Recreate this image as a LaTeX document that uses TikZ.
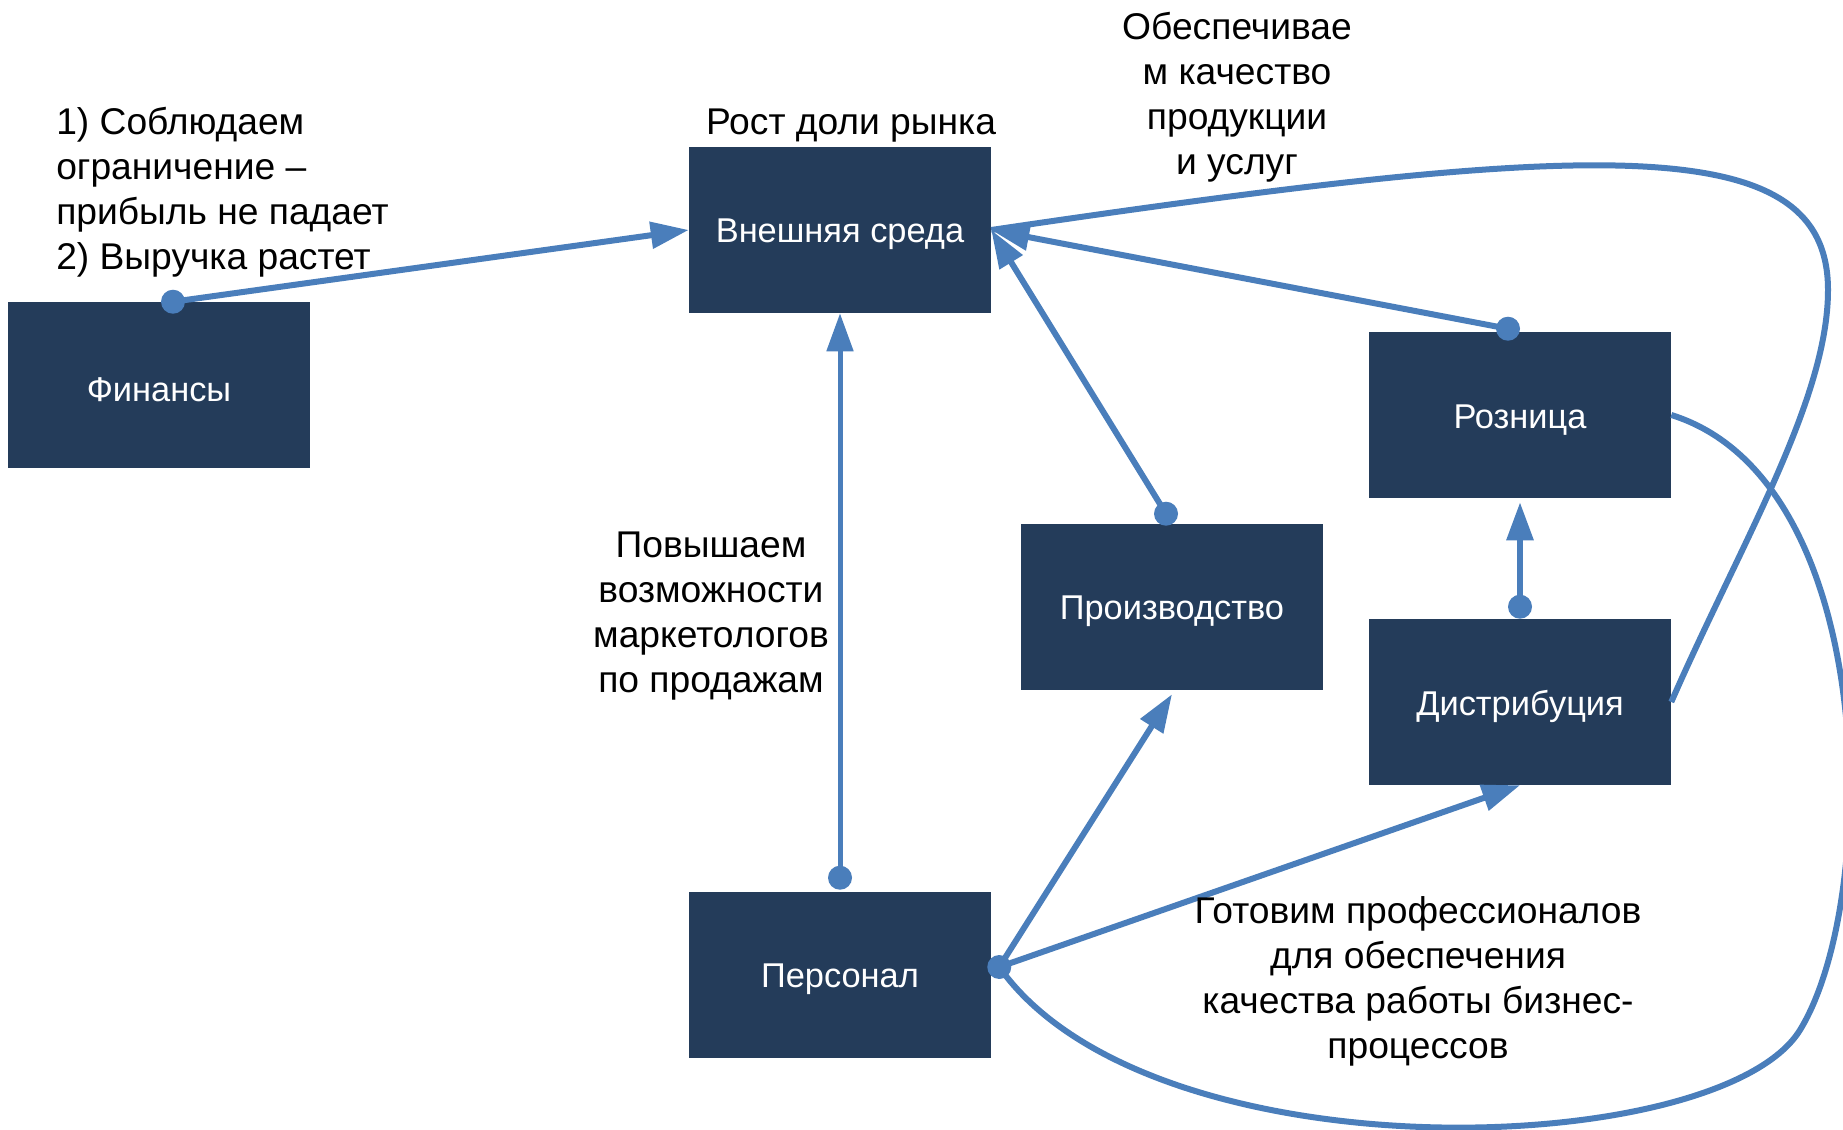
\documentclass[tikz,border=0pt]{standalone}
\usepackage{fontspec}
\setmainfont{Liberation Sans}
\usetikzlibrary{arrows.meta,calc}
\definecolor{boxfill}{HTML}{243C5A}
\definecolor{lineblue}{HTML}{4A7EBB}
\begin{document}
\begin{tikzpicture}[x=0.75pt,y=-0.75pt,
  box/.style={fill=boxfill, text=white, minimum width=226.5pt, minimum height=124.5pt, inner sep=0pt, font=\fontsize{25.8}{30}\selectfont},
  boxtext/.style={text=white, inner sep=0pt, font=\fontsize{25.8}{30}\selectfont, yshift=-3.5pt},
  lbl/.style={font=\fontsize{27.9}{33.75}\selectfont, align=center, inner sep=0pt, yshift=-2.6pt},
  conn/.style={draw=lineblue, line width=4.5pt, -{Triangle[length=28.5pt,width=19.5pt]}},
  thinconn/.style={conn, line width=3.75pt},
  curveline/.style={draw=lineblue, line width=4.5pt},
  dot/.style={fill=lineblue}]
\useasboundingbox (0,0) rectangle (1843,1130);
% boxes
\node[box] (fin)  at (159,385)  {};
\node[box] (ext)  at (840,230)  {};
\node[box] (roz)  at (1520,415) {};
\node[box] (prod) at (1172,607) {};
\node[box] (dist) at (1520,702) {};
\node[box] (pers) at (840,975)  {};
\node[boxtext] (finT)  at (fin)  {Финансы};
\node[boxtext] (extT)  at (ext)  {Внешняя среда};
\node[boxtext] (rozT)  at (roz)  {Розница};
\node[boxtext] (prodT) at (prod) {Производство};
\node[boxtext] (distT) at (dist) {Дистрибуция};
\node[boxtext] (persT) at (pers) {Персонал};
% connector end points
\coordinate (finDot)  at ($(fin.north)+(14,0)$);
\coordinate (persTop) at ($(pers.north)+(0,-14)$);
\coordinate (prodTop) at ($(prod.north)+(-6,-10)$);
\coordinate (rozTop)  at ($(roz.north)+(-12,-3)$);
\coordinate (distTop) at ($(dist.north)+(0,-12)$);
\coordinate (persR)   at ($(pers.east)+(8,-8)$);
\coordinate (rozBot)  at ($(roz.south)+(0,4)$);
\coordinate (prodBot) at ($(prod.south)+(0,4)$);
% curves
\draw[curveline] (persR) .. controls (1150,1180) and (1720,1160) .. (1800,1030)
  .. controls (1880,900) and (1880,480) .. (roz.east);
\draw[curveline] (dist.east) .. controls (1740,545) and (1828,400) .. (1828,290)
  .. controls (1828,130) and (1600,140) .. (ext.east);
% straight connectors
\draw[conn] (finDot) -- (ext.west);
\draw[thinconn] (persTop) -- (ext.south);
\draw[conn] (prodTop) -- (ext.east);
\draw[conn] (rozTop) -- (ext.east);
\draw[conn] (distTop) -- (rozBot);
\draw[conn] (persR) -- (prodBot);
\draw[conn] (persR) -- (dist.south);
% dots
\foreach \p in {finDot,persTop,prodTop,rozTop,distTop,persR}
  \fill[dot] (\p) circle[radius=9pt];
% labels
\node[lbl, align=left, anchor=west] (l1) at (56,189) {1) Соблюдаем\\ограничение –\\прибыль не падает\\2) Выручка растет};
\node[lbl] (l2) at (851,122) {Рост доли рынка};
\node[lbl] (l3) at (1237,94) {Обеспечивае\\м качество\\продукции\\и услуг};
\node[lbl] (l4) at (711,613) {Повышаем\\возможности\\маркетологов\\по продажам};
\node[lbl] (l5) at (1418,978) {Готовим профессионалов\\для обеспечения\\качества работы бизнес-\\процессов};
\end{tikzpicture}
\end{document}
